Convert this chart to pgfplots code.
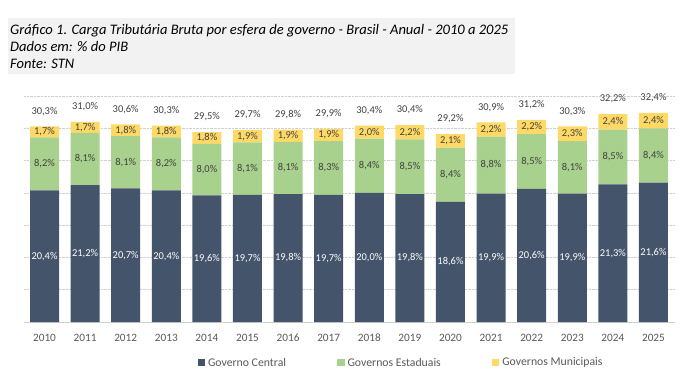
\documentclass[border=0pt]{standalone}
\usepackage{pgfplots}
\pgfplotsset{compat=1.18}
\usepackage{pgfplotstable}
\usepackage{fontspec}
\setmainfont{Carlito}
\definecolor{central}{HTML}{44546A}
\definecolor{estad}{HTML}{A9D18E}
\definecolor{munic}{HTML}{FFD966}
\definecolor{lbl}{HTML}{404040}
\definecolor{ticklbl}{HTML}{595959}
\definecolor{titlebg}{HTML}{F2F2F2}
\definecolor{gridc}{HTML}{D0D0D0}

\pgfplotstableread{
x  c    e   m   t
0  20.4 8.2 1.7 30.3
1  21.2 8.1 1.7 31.0
2  20.7 8.1 1.8 30.6
3  20.4 8.2 1.8 30.3
4  19.6 8.0 1.8 29.5
5  19.7 8.1 1.9 29.7
6  19.8 8.1 1.9 29.8
7  19.7 8.3 1.9 29.9
8  20.0 8.4 2.0 30.4
9  19.8 8.5 2.2 30.4
10 18.6 8.4 2.1 29.2
11 19.9 8.8 2.2 30.9
12 20.6 8.5 2.2 31.2
13 19.9 8.1 2.3 30.3
14 21.3 8.5 2.4 32.2
15 21.6 8.4 2.4 32.4
}\data

\pgfplotsset{
  myaxis/.style={
    at={(24bp,69bp)}, anchor=south west,
    scale only axis, width=651bp, height=226bp,
    xmin=-0.505, xmax=15.53, ymin=0, ymax=35,
    clip=false,
  },
  /pgf/number format/assume math mode=true,
}

\begin{document}
\begin{tikzpicture}
\useasboundingbox (0,0) rectangle (697bp,391bp);
\fill[titlebg] (7.5bp,317bp) rectangle (515bp,373bp);
\begin{scope}[every node/.style={anchor=base west, inner sep=0pt, font=\fontsize{14.6}{17}\selectfont\itshape, text=black}]
\node at (10bp,356.7bp) {Gráfico 1. Carga Tributária Bruta por esfera de governo - Brasil - Anual - 2010 a 2025};
\node at (10bp,339.5bp) {Dados em: \% do PIB};
\node at (10bp,322.5bp) {Fonte: STN};
\end{scope}

\begin{axis}[myaxis,
  ybar stacked, bar width=29bp,
  axis line style={draw=none},
  xtick={0,...,15},
  xticklabels={2010,2011,2012,2013,2014,2015,2016,2017,2018,2019,2020,2021,2022,2023,2024,2025},
  xticklabel style={anchor=base, yshift=-19.6bp, font=\fontsize{11.3}{13}\selectfont, text=ticklbl},
  major tick length=0pt,
  ytick={5,10,...,35}, yticklabels={},
  ymajorgrids, major grid style={densely dotted, gridc, line width=0.6pt},
  extra y ticks={0}, extra y tick labels={},
  extra y tick style={major grid style={solid, gridc, line width=0.9pt}},
  legend style={at={(0.5776,-0.180)}, anchor=center, draw=none, fill=none,
    font=\fontsize{11.8}{13}\selectfont, text=ticklbl,
    nodes={inner sep=0pt},
    /tikz/every odd column/.append style={column sep=3bp},
    /tikz/every even column/.append style={column sep=51bp}},
  legend columns=3,
  legend image code/.code={\fill[#1] (0bp,-3.8bp) rectangle (7.5bp,3.8bp);},
]
\addplot[fill=central, draw=none] table[x=x, y=c]{\data};
\addlegendentry{Governo Central}
\addplot[fill=estad, draw=none] table[x=x, y=e]{\data};
\addlegendentry{Governos Estaduais}
\addplot[fill=munic, draw=none] table[x=x, y=m]{\data};
\addlegendentry{Governos Municipais}
\end{axis}

\begin{axis}[myaxis, hide axis,
  point meta=explicit,
  nodes near coords={\pgfmathprintnumber[fixed,fixed zerofill,precision=1,use comma]{\pgfplotspointmeta}\%},
  every node near coord/.append style={anchor=center, inner sep=0pt, font=\fontsize{10.5}{12}\selectfont, text=lbl},
]
\addplot[draw=none, mark=none, every node near coord/.append style={text=white}]
  table[x=x, y expr=\thisrow{c}/2, meta=c]{\data};
\addplot[draw=none, mark=none]
  table[x=x, y expr=\thisrow{c}+\thisrow{e}/2, meta=e]{\data};
\addplot[draw=none, mark=none]
  table[x=x, y expr=\thisrow{c}+\thisrow{e}+\thisrow{m}/2, meta=m]{\data};
\addplot[draw=none, mark=none]
  table[x=x, y expr=\thisrow{c}+\thisrow{e}+\thisrow{m}+2.35, meta=t]{\data};
\end{axis}
\end{tikzpicture}
\end{document}
